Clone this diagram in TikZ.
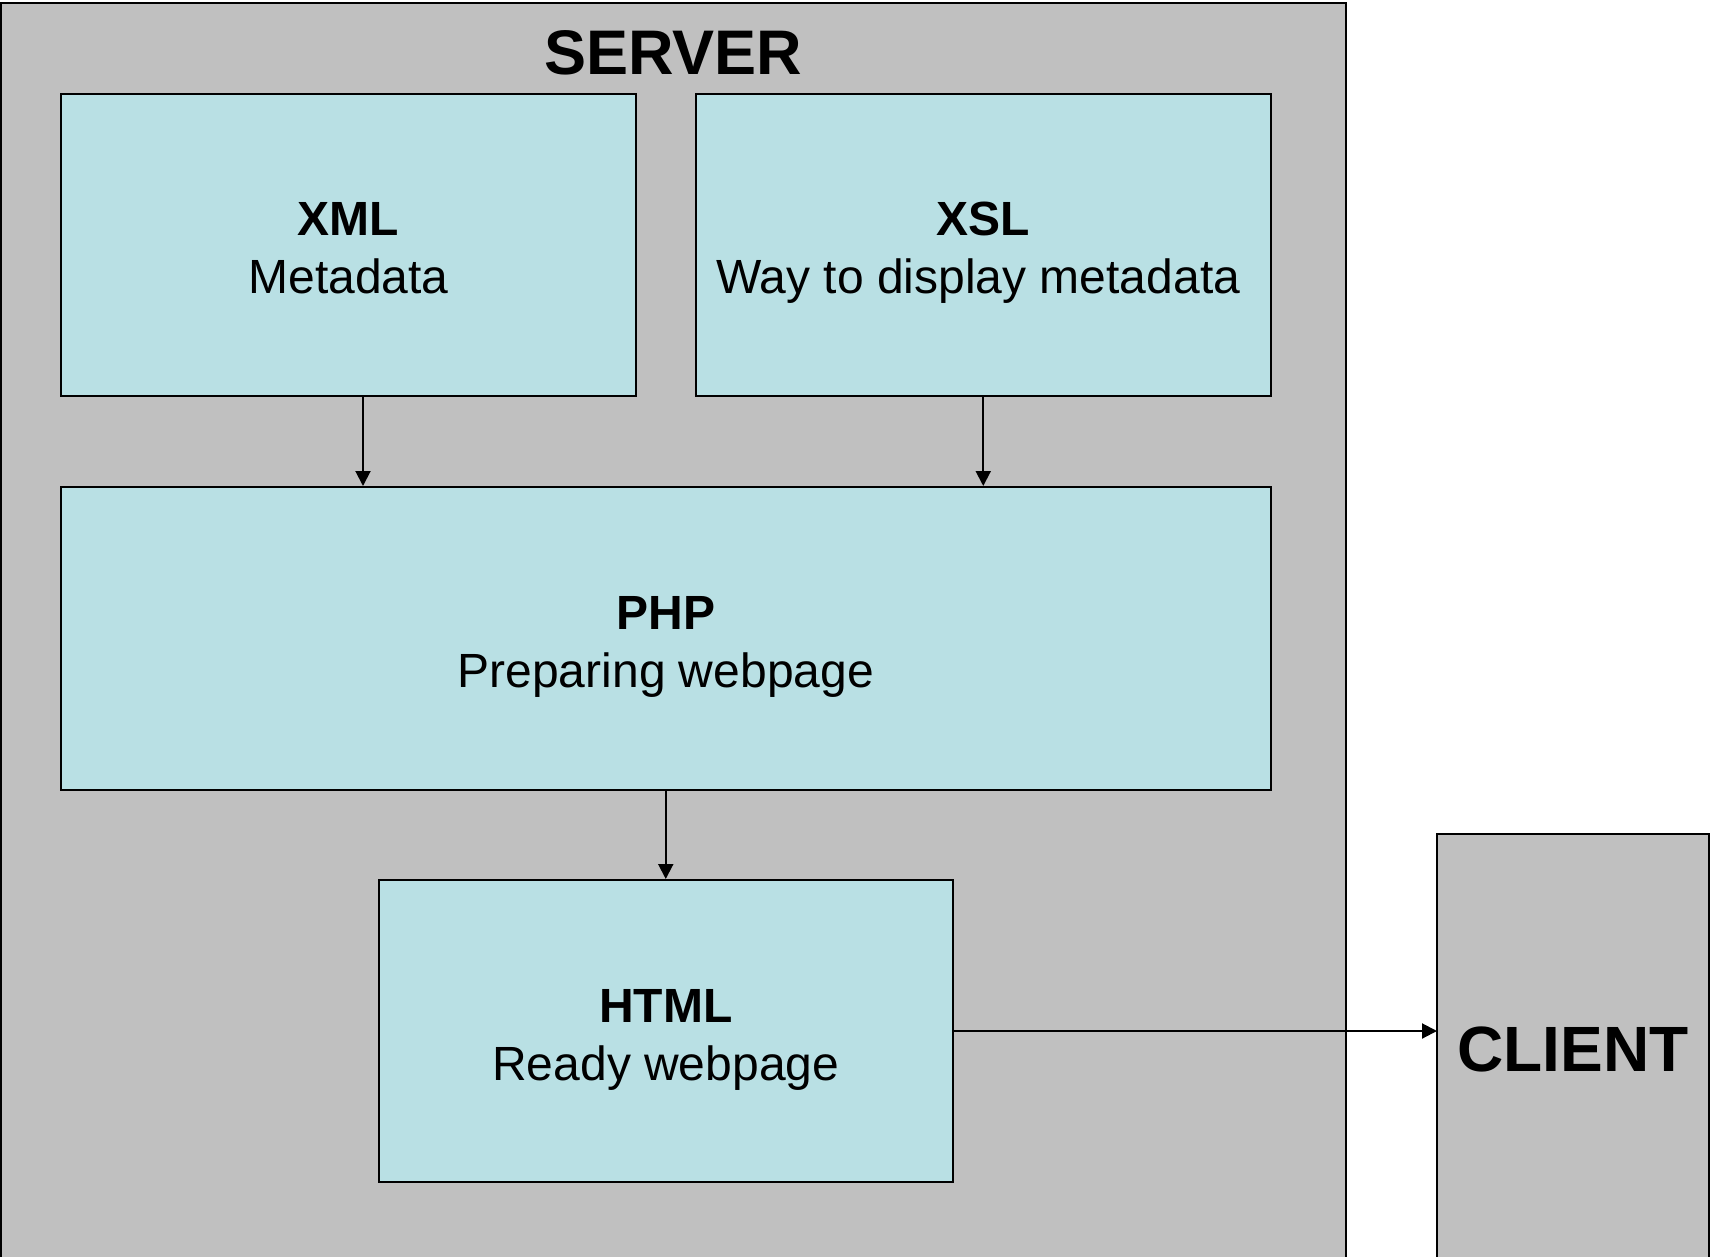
\documentclass[tikz,border=0pt]{standalone}
\usepackage{fontspec}
\setmainfont{Liberation Sans}
\usetikzlibrary{arrows.meta}
\definecolor{srvgray}{RGB}{192,192,192}
\definecolor{boxblue}{RGB}{185,224,228}
\tikzset{
  panel/.style={draw=black, line width=2pt, fill=srvgray},
  procbox/.style={draw=black, line width=2pt, fill=boxblue, rectangle, inner sep=0pt,
    minimum height=302pt, align=center, text height=98pt, text depth=0pt,
    font=\fontsize{48}{58}\selectfont},
  bigtitle/.style={font=\fontsize{63}{75}\bfseries\selectfont, anchor=base, inner sep=0pt},
  flow/.style={line width=2pt, -{Triangle[length=15pt,width=15pt]}}
}
\begin{document}
\begin{tikzpicture}[x=1pt, y=-1pt]
\useasboundingbox (0,0) rectangle (1710,1257);
\clip (0,0) rectangle (1710,1257);
\fill[white] (0,0) rectangle (1710,1257);
% server and client panels
\draw[panel] (1,2.7) rectangle (1346,1300);
\draw[panel] (1437,834) rectangle (1709,1300);
\node[bigtitle] (server) at (673.5,75) {SERVER};
\node[bigtitle, font=\fontsize{64}{76}\bfseries\selectfont] (client) at (1573,1071) {CLIENT};
\coordinate (clientwest) at (1437,1031);
% boxes
\node[procbox, minimum width=575pt] (xml) at (348.5,245) {\textbf{XML}\\Metadata};
\node[procbox, minimum width=574.5pt] (xsl) at (983.25,245) {\textbf{XSL}\\\hspace*{-10pt}Way to display metadata};
\node[procbox, minimum width=1209.5pt, minimum height=303pt] (php) at (665.75,638.5) {\textbf{PHP}\\Preparing webpage};
\node[procbox, minimum width=574.5pt] (html) at (665.75,1031) {\textbf{HTML}\\Ready webpage};
% connectors
\draw[flow] ([xshift=14.5pt]xml.south) -- ([xshift=14.5pt]xml.south |- php.north);
\draw[flow] (xsl.south) -- (xsl.south |- php.north);
\draw[flow] (php.south) -- (html.north);
\draw[flow] (html.east) -- (clientwest);
\end{tikzpicture}
\end{document}
